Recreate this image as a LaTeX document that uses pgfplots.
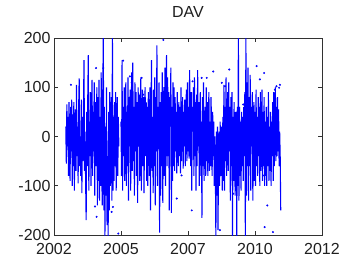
\documentclass[border=0pt]{standalone}
\usepackage{pgfplots}
\pgfplotsset{compat=1.18}
\usepackage{fontspec}
\setmainfont{Liberation Sans}
\definecolor{mblue}{RGB}{0,0,255}
\definecolor{axgray}{RGB}{50,50,50}
\begin{document}
\begin{tikzpicture}
\useasboundingbox (-54pt,-23pt) rectangle (285pt,235pt);
\begin{axis}[
  at={(0,0)}, anchor=south west,
  scale only axis, width=268pt, height=197pt,
  xmin=0, xmax=10, ymin=-200, ymax=200,
  xtick={0,2.5,5,7.5,10},
  xticklabels={2002,2005,2007,2010,2012},
  ytick={-200,-100,0,100,200},
  tick align=inside, major tick length=4pt,
  axis line style={axgray, line width=0.9pt},
  every tick/.style={axgray, line width=0.9pt},
  tick label style={font=\fontsize{16}{16}\selectfont, text=black!88},
  /pgf/number format/assume math mode=true,
  xticklabel style={yshift=-5pt},
  yticklabel style={xshift=0pt},
  title={DAV},
  title style={font=\fontsize{16}{16}\selectfont, text=black!88, at={(0.5,1)}, anchor=base, yshift=15pt},
  unbounded coords=jump,
  clip=true,
]
\addplot[mblue, line width=1.1pt, no marks] coordinates {
(0.44,20)(0.46,-55)(0.48,65)(0.50,-20)(0.52,40)(0.54,-80)(0.56,70)(0.58,5)(0.60,-90)(0.62,60)
(0.64,-30)(0.66,75)(0.68,-100)(0.70,45)(0.72,-60)(0.74,70)(0.76,-110)(0.78,30)(0.80,55)(0.82,-70)
(0.84,105)(0.86,-40)(0.88,20)(0.90,-95)(0.92,60)(0.94,118)(0.96,-60)(0.98,0)(1.00,-80)(1.02,75)
(1.04,-115)(1.06,40)(1.08,-50)(1.10,60)(1.12,155)(1.14,-70)(1.16,10)(1.18,-90)(1.20,-170)(1.22,50)
(1.24,-60)(1.26,80)(1.28,165)(1.30,-110)(1.32,30)(1.34,-40)(1.36,90)(1.38,-100)(1.40,20)(1.42,115)
(1.44,-80)(1.46,50)(1.48,-30)(1.50,110)(1.52,-120)(1.54,70)(1.56,-60)(1.58,10)(1.60,100)(1.62,-140)
(1.64,80)(1.66,-90)(1.68,115)(1.70,-130)(1.72,40)(1.74,-100)(1.76,130)(1.78,-60)(1.80,-140)(1.82,90)
(1.84,205)(1.86,-150)(1.88,60)(1.90,-205)(1.92,20)(1.94,-120)(1.96,100)(1.98,-180)(2.00,-40)(2.02,-205)
(2.04,50)(2.06,-150)(2.08,90)(2.10,-100)(2.12,-20)(2.14,80)(2.16,-130)(2.18,205)(2.20,-110)(2.22,40)
(2.24,-90)(2.26,70)(2.28,-60)(2.30,90)(2.32,-110)(2.34,20)(2.36,80)(2.38,-80)(2.40,40)(2.42,-20)
(2.44,nan)
(2.50,30)(2.52,-80)(2.54,155)(2.56,-110)(2.58,60)(2.60,-40)(2.62,100)(2.64,-90)(2.66,20)(2.68,110)
(2.70,-100)(2.72,50)(2.74,-60)(2.76,120)(2.78,-130)(2.80,80)(2.82,-20)(2.84,95)(2.86,-110)(2.88,40)
(2.90,130)(2.92,-70)(2.94,150)(2.96,-50)(2.98,60)(3.00,-120)(3.02,110)(3.04,-30)(3.06,90)(3.08,-80)
(3.10,70)(3.12,-135)(3.14,100)(3.16,-20)(3.18,85)(3.20,-90)(3.22,60)(3.24,120)(3.26,-110)(3.28,30)
(3.30,95)(3.32,-60)(3.34,80)(3.36,-115)(3.38,50)(3.40,100)(3.42,-40)(3.44,70)(3.46,-90)(3.48,60)
(3.50,-100)(3.52,90)(3.54,20)(3.56,-80)(3.58,100)(3.60,-150)(3.62,60)(3.64,155)(3.66,-70)(3.68,40)
(3.70,-115)(3.72,95)(3.74,-60)(3.76,120)(3.78,-140)(3.80,80)(3.82,-30)(3.84,185)(3.86,-100)(3.88,60)
(3.90,-20)(3.92,110)(3.94,-195)(3.96,70)(3.98,-120)(4.00,90)(4.02,-60)(4.04,130)(4.06,-135)(4.08,50)
(4.10,100)(4.12,-80)(4.14,140)(4.16,-100)(4.18,60)(4.20,165)(4.22,-60)(4.24,120)(4.26,-40)(4.28,90)
(4.30,-150)(4.32,80)(4.34,20)(4.36,140)(4.38,-155)(4.40,60)(4.42,-90)(4.44,110)(4.46,-60)(4.48,100)
(4.50,-70)(4.52,80)(4.54,-30)(4.56,50)(4.58,-75)(4.60,90)(4.62,10)(4.64,-60)(4.66,70)(4.68,-40)
(4.70,60)(4.72,-75)(4.74,100)(4.76,-50)(4.78,30)(4.80,80)(4.82,-65)(4.84,50)(4.86,-20)(4.88,75)
(4.90,-60)(4.92,40)(4.94,95)(4.96,-50)(4.98,110)(5.00,-30)(5.02,60)(5.04,-45)(5.06,135)(5.08,20)
(5.10,-60)(5.12,90)(5.14,-110)(5.16,60)(5.18,10)(5.20,100)(5.22,-80)(5.24,120)(5.26,-40)(5.28,70)
(5.30,-110)(5.32,85)(5.34,-60)(5.36,135)(5.38,-20)(5.40,70)(5.42,-100)(5.44,50)(5.46,90)(5.48,-80)
(5.50,30)(5.52,-165)(5.54,80)(5.56,-60)(5.58,110)(5.60,-90)(5.62,20)(5.64,60)(5.66,-80)(5.68,100)
(5.70,-50)(5.72,70)(5.74,-80)(5.76,40)(5.78,90)(5.80,-70)(5.82,30)(5.84,-60)(5.86,80)(5.88,10)
(5.90,-80)(5.92,50)(5.94,-40)(5.96,30)(5.98,-100)(6.00,0)(6.02,-60)(6.04,-205)(6.06,10)(6.08,-120)
(6.10,20)(6.12,-190)(6.14,-40)(6.16,10)(6.18,-100)(6.20,30)(6.22,-80)(6.24,-20)(6.26,20)(6.28,-110)
(6.30,40)(6.32,-90)(6.34,105)(6.36,-110)(6.38,60)(6.40,-50)(6.42,120)(6.44,-80)(6.46,30)(6.48,90)
(6.50,-70)(6.52,110)(6.54,-30)(6.56,60)(6.58,-130)(6.60,80)(6.62,-60)(6.64,90)(6.66,-205)(6.68,40)
(6.70,-90)(6.72,70)(6.74,-40)(6.76,-120)(6.78,50)(6.80,20)(6.82,-205)(6.84,60)(6.86,-100)(6.88,205)
(6.90,-130)(6.92,60)(6.94,-80)(6.96,30)(6.98,-110)(7.00,50)(7.02,-60)(7.04,40)(7.06,-90)(7.08,60)
(7.10,-40)(7.12,90)(7.14,-205)(7.16,205)(7.18,-120)(7.20,110)(7.22,-60)(7.24,140)(7.26,-130)(7.28,80)
(7.30,-60)(7.32,125)(7.34,-110)(7.36,60)(7.38,-20)(7.40,90)(7.42,-130)(7.44,40)(7.46,70)(7.48,-90)
(7.50,50)(7.52,-100)(7.54,95)(7.56,-60)(7.58,40)(7.60,-80)(7.62,80)(7.64,-40)(7.66,60)(7.68,-100)
(7.70,90)(7.72,-70)(7.74,20)(7.76,95)(7.78,-90)(7.80,50)(7.82,-60)(7.84,80)(7.86,-100)(7.88,30)
(7.90,-80)(7.92,60)(7.94,-100)(7.96,40)(7.98,-60)(8.00,90)(8.02,-90)(8.04,20)(8.06,-70)(8.08,50)
(8.10,-100)(8.12,30)(8.14,-40)(8.16,70)(8.18,-90)(8.20,90)(8.22,-60)(8.24,20)(8.26,100)(8.28,-50)
(8.30,60)(8.32,-40)(8.34,80)(8.36,-30)(8.38,55)(8.40,-60)(8.42,10)(8.44,-40)(8.46,-150)
};
\addplot[only marks, mark=*, mark size=0.8pt, mblue, draw=mblue, fill=mblue] coordinates {
(0.63,105)(1.53,-142)(1.59,-163)(1.57,139)(1.84,139)(2.15,-153)(2.20,-143)(2.40,-197)
(2.58,154)(2.83,122)(2.90,109)(3.27,119)(3.33,85)(4.08,196)(4.58,-126)(4.76,-79)
(5.14,-150)(5.17,112)(5.51,119)(5.70,119)(5.94,132)(6.07,-56)(6.19,-190)(6.26,109)
(6.38,102)(6.54,136)(6.69,-116)(7.06,65)(7.56,143)(7.68,116)(7.84,129)(7.86,-184)
(7.80,-79)(7.96,-140)(8.24,95)(8.30,102)(8.40,99)(8.43,105)(8.17,-194)
};
\end{axis}
\end{tikzpicture}
\end{document}
